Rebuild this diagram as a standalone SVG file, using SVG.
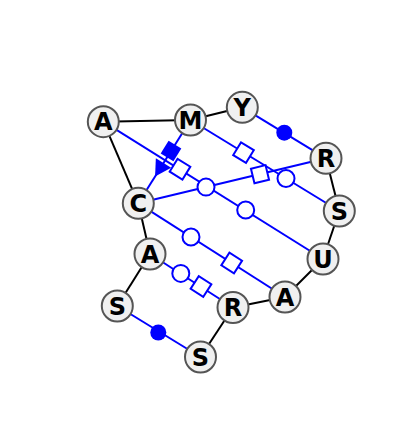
<svg xmlns="http://www.w3.org/2000/svg" width="400" height="423" viewBox="0 0 400 423">
<style>
.bb{stroke:#000;stroke-width:2;fill:none}
.bp{stroke:#0000ff;stroke-width:2;fill:none}
.oc{fill:#fff;stroke:#0000ff;stroke-width:2}
.os{fill:#fff;stroke:#0000ff;stroke-width:2}
.fm{fill:#0000ff;stroke:none}
.nd circle{fill:#f0f0f0;stroke:#555;stroke-width:2}
.nd text{font-family:"DejaVu Sans",sans-serif;font-weight:bold;font-size:24px;text-anchor:middle;fill:#000}
</style>
<rect width="400" height="423" fill="#fff"/>
<g id="connectors">
  <line class="bb" x1="103.3" y1="121.7" x2="190.5" y2="120"/>
  <line class="bb" x1="190.5" y1="120" x2="242.3" y2="107.3"/>
  <line class="bp" x1="242.3" y1="107.3" x2="326" y2="158.3"/>
  <line class="bb" x1="326" y1="158.3" x2="339.3" y2="211"/>
  <line class="bb" x1="339.3" y1="211" x2="323" y2="259"/>
  <line class="bb" x1="323" y1="259" x2="285" y2="297"/>
  <line class="bb" x1="285" y1="297" x2="233" y2="307.5"/>
  <line class="bb" x1="233" y1="307.5" x2="200.5" y2="357"/>
  <line class="bp" x1="200.5" y1="357" x2="117.3" y2="306"/>
  <line class="bb" x1="117.3" y1="306" x2="150" y2="254"/>
  <line class="bb" x1="150" y1="254" x2="138.3" y2="203.3"/>
  <line class="bb" x1="138.3" y1="203.3" x2="103.3" y2="121.7"/>
  <line class="bp" x1="190.5" y1="120" x2="138.3" y2="203.3"/>
  <line class="bp" x1="103.3" y1="121.7" x2="323" y2="259"/>
  <line class="bp" x1="190.5" y1="120" x2="339.3" y2="211"/>
  <line class="bp" x1="138.3" y1="203.3" x2="326" y2="158.3"/>
  <line class="bp" x1="138.3" y1="203.3" x2="285" y2="297"/>
  <line class="bp" x1="150" y1="254" x2="233" y2="307.5"/>
  <circle class="fm" cx="284.3" cy="132.7" r="8"/>
  <circle class="fm" cx="158.3" cy="332.5" r="8"/>
  <rect class="fm" x="-7.5" y="-7.5" width="15" height="15" transform="translate(171,151) rotate(121.8)" stroke="#fff" stroke-width="1"/>
  <polygon class="fm" points="0,-9 16,0 0,9" transform="translate(163.5,163) rotate(121.8)" stroke="#fff" stroke-width="1"/>
  <rect class="os" x="-7.5" y="-7.5" width="15" height="15" transform="translate(180,169.2) rotate(31.75)"/>
  <circle class="oc" cx="245.7" cy="210" r="8.5"/>
  <rect class="os" x="-7.5" y="-7.5" width="15" height="15" transform="translate(243.5,152.6) rotate(31.4)"/>
  <circle class="oc" cx="286" cy="178.5" r="8.5"/>
  <circle class="oc" cx="206" cy="187.1" r="8.5"/>
  <rect class="os" x="-7.5" y="-7.5" width="15" height="15" transform="translate(260,174.2) rotate(-13.5)"/>
  <circle class="oc" cx="191" cy="237" r="8.5"/>
  <rect class="os" x="-7.5" y="-7.5" width="15" height="15" transform="translate(231.7,263) rotate(32.6)"/>
  <circle class="oc" cx="180.8" cy="273.4" r="8.5"/>
  <rect class="os" x="-7.5" y="-7.5" width="15" height="15" transform="translate(201,286.5) rotate(32.8)"/>
</g>
<g id="n1" class="nd"><circle cx="103.3" cy="121.7" r="15.5"/><text x="103.3" y="130.4">A</text></g>
<g id="n2" class="nd"><circle cx="190.5" cy="120" r="15.5"/><text x="190.5" y="128.7">M</text></g>
<g id="n3" class="nd"><circle cx="242.3" cy="107.3" r="15.5"/><text x="242.3" y="116">Y</text></g>
<g id="n4" class="nd"><circle cx="326" cy="158.3" r="15.5"/><text x="326" y="167">R</text></g>
<g id="n5" class="nd"><circle cx="339.3" cy="211" r="15.5"/><text x="339.3" y="219.7">S</text></g>
<g id="n6" class="nd"><circle cx="323" cy="259" r="15.5"/><text x="323" y="267.7">U</text></g>
<g id="n7" class="nd"><circle cx="285" cy="297" r="15.5"/><text x="285" y="305.7">A</text></g>
<g id="n8" class="nd"><circle cx="233" cy="307.5" r="15.5"/><text x="233" y="316.2">R</text></g>
<g id="n9" class="nd"><circle cx="200.5" cy="357" r="15.5"/><text x="200.5" y="365.7">S</text></g>
<g id="n10" class="nd"><circle cx="117.3" cy="306" r="15.5"/><text x="117.3" y="314.7">S</text></g>
<g id="n11" class="nd"><circle cx="150" cy="254" r="15.5"/><text x="150" y="262.7">A</text></g>
<g id="n12" class="nd"><circle cx="138.3" cy="203.3" r="15.5"/><text x="138.3" y="212">C</text></g>
</svg>
